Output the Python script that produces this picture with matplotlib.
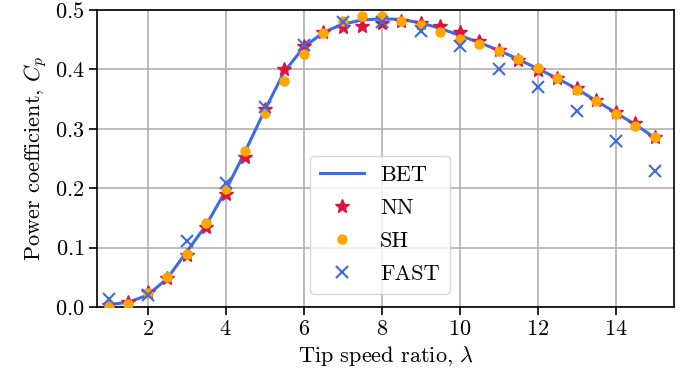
import matplotlib
matplotlib.use("Agg")
import matplotlib.pyplot as plt

plt.rcParams["font.family"] = "serif"
plt.rcParams["font.serif"] = ["cmr10"]
plt.rcParams["mathtext.fontset"] = "cm"
plt.rcParams["axes.formatter.use_mathtext"] = True
plt.rcParams["font.size"] = 16

# tip speed ratio samples
tsr_half = [1, 1.5, 2, 2.5, 3, 3.5, 4, 4.5, 5, 5.5, 6, 6.5, 7, 7.5, 8,
            8.5, 9, 9.5, 10, 10.5, 11, 11.5, 12, 12.5, 13, 13.5, 14, 14.5, 15]
tsr_int = [1, 2, 3, 4, 5, 6, 7, 8, 9, 10, 11, 12, 13, 14, 15]

cp_bet = [0.004, 0.008, 0.02, 0.048, 0.093, 0.138, 0.196, 0.262, 0.331, 0.396,
          0.437, 0.462, 0.476, 0.483, 0.485, 0.484, 0.478, 0.469, 0.457, 0.445,
          0.432, 0.417, 0.401, 0.385, 0.367, 0.347, 0.327, 0.307, 0.285]
cp_nn = [0.003, 0.008, 0.025, 0.049, 0.087, 0.134, 0.19, 0.253, 0.334, 0.4,
         0.439, 0.462, 0.471, 0.473, 0.478, 0.482, 0.478, 0.473, 0.462, 0.447,
         0.433, 0.416, 0.399, 0.385, 0.368, 0.348, 0.329, 0.31, 0.286]
cp_sh = [0.002, 0.005, 0.023, 0.05, 0.09, 0.142, 0.198, 0.263, 0.326, 0.381,
         0.426, 0.461, 0.482, 0.49, 0.49, 0.482, 0.475, 0.462, 0.451, 0.442,
         0.431, 0.418, 0.403, 0.385, 0.366, 0.347, 0.324, 0.305, 0.286]
cp_fast = [0.014, 0.021, 0.111, 0.209, 0.337, 0.441, 0.479, 0.479, 0.465,
           0.44, 0.4, 0.37, 0.33, 0.28, 0.229]

fig = plt.figure(figsize=(6.88, 3.8), dpi=100)
ax = fig.add_axes([0.141, 0.192, 0.839, 0.782])

ax.plot(tsr_half, cp_bet, color="royalblue", lw=2.2, label="BET", zorder=2)
ax.plot(tsr_half, cp_nn, ls="none", marker="*", ms=10, color="crimson",
        label="NN", zorder=3)
ax.plot(tsr_half, cp_sh, ls="none", marker="o", ms=6.5, color="orange",
        label="SH", zorder=4)
ax.plot(tsr_int, cp_fast, ls="none", marker="x", ms=9, mew=1.5,
        color="royalblue", label="FAST", zorder=5)

ax.set_xlim(0.7, 15.5)
ax.set_ylim(0, 0.5)
ax.set_xticks([2, 4, 6, 8, 10, 12, 14])
ax.set_yticks([0, 0.1, 0.2, 0.3, 0.4, 0.5])
ax.tick_params(length=5.5, width=1.2)
ax.grid(True, color="#b0b0b0", lw=1.2)
ax.set_axisbelow(True)
for s in ax.spines.values():
    s.set_linewidth(1.2)

ax.set_xlabel(r"Tip speed ratio, $\lambda$")
ax.set_ylabel(r"Power coefficient, $C_p$")
ax.legend(loc="lower center", bbox_to_anchor=(0.49, 0.007), fontsize=16,
          labelspacing=0.6, borderpad=0.45, handletextpad=0.7)

fig.savefig("out.png", dpi=100)
